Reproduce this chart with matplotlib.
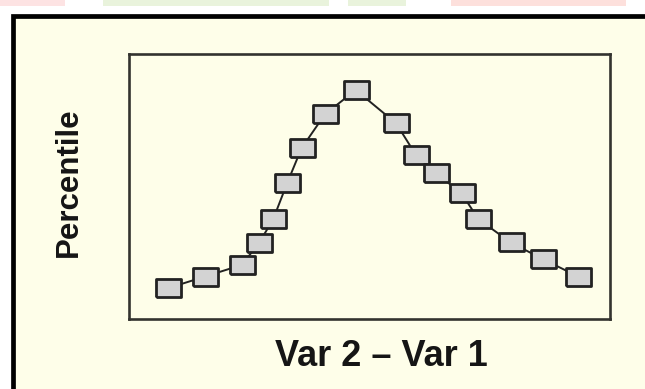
import matplotlib
matplotlib.use('Agg')
from matplotlib import pyplot as plt
from matplotlib.patches import Rectangle

# difference between the two variables (arbitrary units) and its percentile
diff = [8.1, 15.8, 23.5, 27.1, 30.0, 32.9, 35.9, 40.8, 47.2,
        55.6, 59.7, 63.9, 69.2, 72.7, 79.4, 86.2, 93.5]
pct = [11.8, 16.2, 20.6, 29.0, 37.8, 51.4, 64.6, 77.5, 86.6,
       74.0, 62.1, 55.2, 47.6, 37.9, 29.1, 22.7, 16.2]

xlabel = 'Var 2 \u2013 Var 1'
ylabel = 'Percentile'

cream = '#fefee9'

fig = plt.figure(figsize=(6.45, 3.89), dpi=100)
fig.patch.set_facecolor('white')

# faint watermark bits along the top edge
for x0, w, c in [(0.0, 0.10, '#fde3e3'), (0.16, 0.35, '#e9f3dc'),
                 (0.54, 0.09, '#e9f3dc'), (0.70, 0.27, '#fde0dc')]:
    fig.patches.append(Rectangle((x0, 0.985), w, 0.015, transform=fig.transFigure,
                                 facecolor=c, edgecolor='none', zorder=-3))

# outer cream panel with thick black border (runs off right and bottom)
fig.patches.append(Rectangle((13 / 645, -0.05), 1.0, 1 - 15.5 / 389 + 0.05,
                             transform=fig.transFigure, facecolor=cream,
                             edgecolor='black', linewidth=3.4, zorder=-2))

ax = fig.add_axes([0.2, 0.1787, 0.745, 0.6812])
ax.set_facecolor(cream)
for s in ax.spines.values():
    s.set_color('#33332f')
    s.set_linewidth(1.9)

rect = [(-1.32, -1), (1.32, -1), (1.32, 1), (-1.32, 1), (-1.32, -1)]
ax.plot(diff, pct, color='#222222', linewidth=1.4,
        marker=rect, markersize=18, markerfacecolor='#d3d3d3',
        markeredgecolor='#222222', markeredgewidth=2.0)

ax.set_xlim(0, 100)
ax.set_ylim(0, 100)
ax.set_xticks([])
ax.set_yticks([])

fig.text(381 / 645, 1 - 357 / 389, xlabel, ha='center', va='center',
         fontsize=26, fontweight='bold', color='#151515',
         family=['Liberation Sans', 'DejaVu Sans'])
fig.text(69 / 645, 1 - 182.5 / 389, ylabel, ha='center', va='center',
         rotation=90, fontsize=22.5, fontweight='bold', color='#151515',
         family=['Liberation Sans Narrow', 'DejaVu Sans Condensed', 'Liberation Sans'])

fig.savefig('out.png', dpi=100, facecolor=fig.get_facecolor())
